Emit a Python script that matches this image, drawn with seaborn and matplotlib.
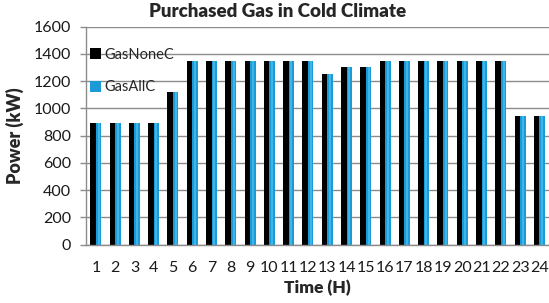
import pandas as pd
import seaborn as sns
from matplotlib import pyplot as plt
from matplotlib.patches import Patch

hours = [str(h) for h in range(1, 25)]
gas_none_c = [890, 890, 890, 890, 1120, 1350, 1350, 1350, 1350, 1350, 1350, 1350,
              1250, 1300, 1300, 1350, 1350, 1350, 1350, 1350, 1350, 1350, 945, 945]
gas_all_c = [890, 890, 890, 890, 1120, 1350, 1350, 1350, 1350, 1350, 1350, 1350,
             1250, 1300, 1300, 1350, 1350, 1350, 1350, 1350, 1350, 1350, 945, 945]
series = ['GasNoneC', 'GasAllC']
colors = ['#000000', '#1A9AD6']

df = pd.DataFrame({
    'Time': hours * 2,
    'Power': gas_none_c + gas_all_c,
    'Series': [series[0]] * 24 + [series[1]] * 24,
})

sns.set_style('white')
plt.rcParams['font.family'] = ['Lato', 'DejaVu Sans']

fig = plt.figure(figsize=(5.49, 3.03), dpi=100)
ax = fig.add_axes([0.157, 0.193, 0.843, 0.7195])

sns.barplot(data=df, x='Time', y='Power', hue='Series', palette=colors,
            width=0.57, gap=0, saturation=1, ax=ax, legend=False,
            edgecolor='none', linewidth=0)

# lighter stripe on the blue bars, like the bevel in the original
for bar in ax.patches[24:]:
    x, w, h = bar.get_x(), bar.get_width(), bar.get_height()
    ax.bar(x + w * 0.5, h, width=w * 0.35, bottom=0, color='#3FB6EA',
           linewidth=0, zorder=bar.get_zorder() + 0.1)

ax.set_xlim(-0.5, 23.5)
ax.set_ylim(0, 1600)
ax.set_yticks(range(0, 1601, 200))
ax.yaxis.grid(True, color='#8c8c8c', linewidth=1)
ax.set_axisbelow(True)

for s in ['top', 'right']:
    ax.spines[s].set_visible(False)
for s in ['left', 'bottom']:
    ax.spines[s].set_color('#8c8c8c')
    ax.spines[s].set_linewidth(1)

ax.tick_params(axis='x', length=0, pad=12, labelsize=11.5, colors='#1a1a1a')
ax.tick_params(axis='y', length=4, width=1, color='#8c8c8c', direction='out',
               pad=7, labelsize=11.5, left=True, labelcolor='#1a1a1a')

ax.set_xlabel('Time (H)', fontsize=12.5, fontweight='heavy', labelpad=3)
ax.set_ylabel('Power (kW)', fontsize=13, fontweight='heavy', labelpad=7)
fig.suptitle('Purchased Gas in Cold Climate', fontsize=13.5, fontweight='heavy',
             x=0.505, y=0.99)

handles = [Patch(facecolor=c, edgecolor='none') for c in colors]
ax.legend(handles, series, loc='center left', bbox_to_anchor=(0.008, 0.796),
          frameon=False, fontsize=10.5, handlelength=0.75, handleheight=0.75,
          handletextpad=0.25, labelspacing=1.3, borderpad=0, borderaxespad=0)

fig.savefig('out.png', dpi=100)
plt.close(fig)
